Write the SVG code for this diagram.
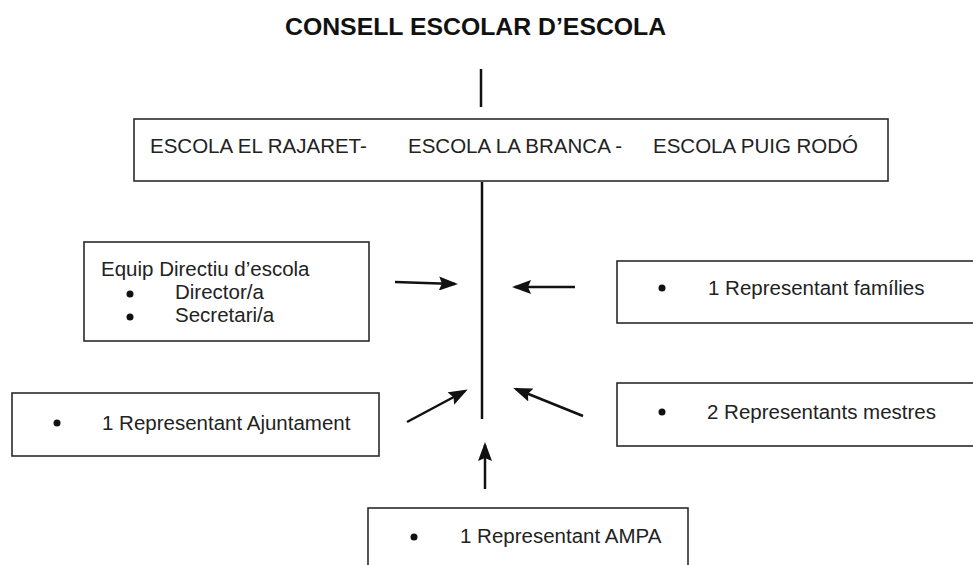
<svg xmlns="http://www.w3.org/2000/svg" width="973" height="565" viewBox="0 0 973 565">
  <style>
    .box { fill: #ffffff; stroke: #2a2a2a; stroke-width: 1.6; }
    .t { font-family: "Liberation Sans", Arial, sans-serif; font-size: 20.5px; fill: #222222; }
    .title { font-family: "Liberation Sans", Arial, sans-serif; font-size: 24.8px; font-weight: bold; fill: #111111; }
    .bullet { fill: #111111; }
    .line { stroke: #111111; stroke-width: 2.5; fill: none; }
    .arrow { stroke: #111111; stroke-width: 2.5; fill: none; marker-end: url(#head); }
  </style>
  <defs>
    <marker id="head" markerUnits="userSpaceOnUse" viewBox="0 0 19 14" markerWidth="19" markerHeight="14" refX="16" refY="7" orient="auto">
      <path d="M0,0 L19,7 L0,14 L3,7 z" fill="#111111"/>
    </marker>
  </defs>
  <rect width="973" height="565" fill="#ffffff"/>

  <g id="title">
    <text class="title" x="285" y="35">CONSELL ESCOLAR D’ESCOLA</text>
  </g>

  <g id="schools">
    <rect class="box" x="134" y="119" width="754" height="62"/>
    <text class="t" x="150" y="153">ESCOLA EL RAJARET-</text>
    <text class="t" x="408" y="153">ESCOLA LA BRANCA -</text>
    <text class="t" x="653" y="153">ESCOLA PUIG RODÓ</text>
  </g>

  <g id="equip">
    <rect class="box" x="84" y="242" width="285" height="99"/>
    <text class="t" x="101" y="276">Equip Directiu d’escola</text>
    <circle class="bullet" cx="130" cy="294" r="3.5"/>
    <text class="t" x="175" y="299">Director/a</text>
    <circle class="bullet" cx="130" cy="317" r="3.5"/>
    <text class="t" x="175" y="322">Secretari/a</text>
  </g>

  <g id="families">
    <rect class="box" x="617" y="261" width="380" height="62"/>
    <circle class="bullet" cx="662" cy="288" r="3.5"/>
    <text class="t" x="708" y="295">1 Representant famílies</text>
  </g>

  <g id="mestres">
    <rect class="box" x="617" y="383" width="380" height="63"/>
    <circle class="bullet" cx="662" cy="412" r="3.5"/>
    <text class="t" x="707" y="419">2 Representants mestres</text>
  </g>

  <g id="ajuntament">
    <rect class="box" x="12" y="393" width="367" height="63"/>
    <circle class="bullet" cx="57" cy="423" r="3.5"/>
    <text class="t" x="102" y="430">1 Representant Ajuntament</text>
  </g>

  <g id="ampa">
    <rect class="box" x="368" y="508" width="320" height="80"/>
    <circle class="bullet" cx="414" cy="537" r="3.5"/>
    <text class="t" x="460" y="543">1 Representant AMPA</text>
  </g>

  <g id="connectors">
    <line class="line" x1="481" y1="69" x2="481" y2="107"/>
    <line class="line" x1="482" y1="182" x2="482" y2="419"/>
    <line class="arrow" x1="395" y1="282" x2="455" y2="284"/>
    <line class="arrow" x1="575" y1="287" x2="515" y2="287"/>
    <line class="arrow" x1="407" y1="422" x2="465" y2="391"/>
    <line class="arrow" x1="583" y1="416" x2="516" y2="389"/>
    <line class="arrow" x1="485" y1="489" x2="485" y2="445"/>
  </g>
</svg>
